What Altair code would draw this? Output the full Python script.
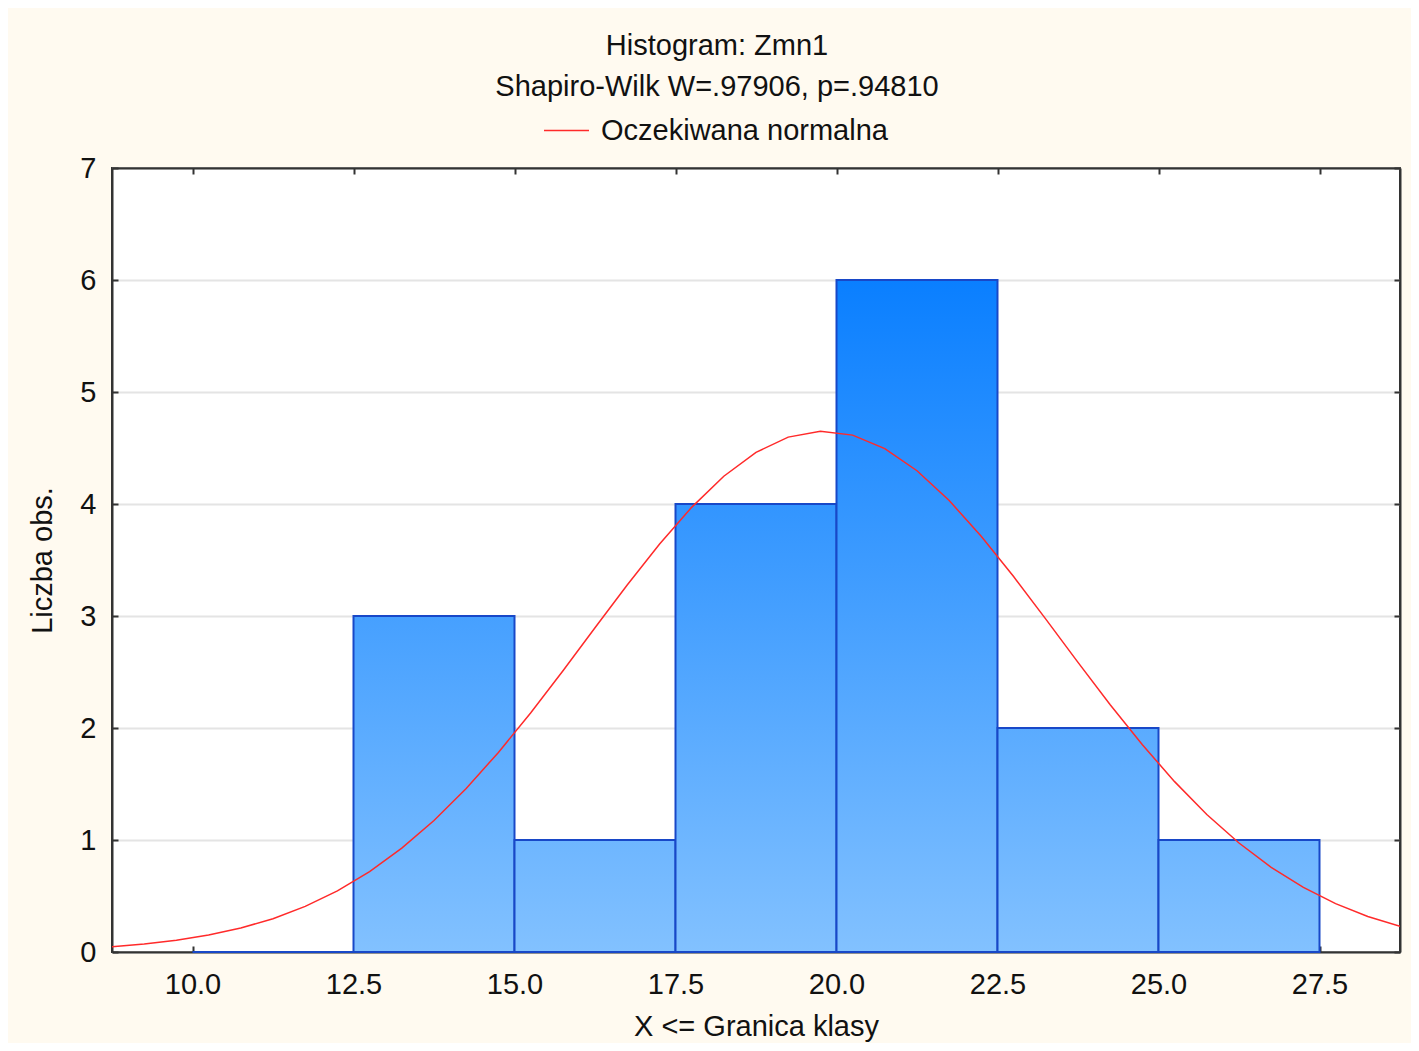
import altair as alt
import pandas as pd

# ---- data ----
bin_lower = [10.0, 12.5, 15.0, 17.5, 20.0, 22.5, 25.0]
bin_upper = [12.5, 15.0, 17.5, 20.0, 22.5, 25.0, 27.5]
counts = [0, 3, 1, 4, 6, 2, 1]

curve_x = [8.75, 9.25, 9.75, 10.25, 10.75, 11.25, 11.75, 12.25, 12.75, 13.25,
           13.75, 14.25, 14.75, 15.25, 15.75, 16.25, 16.75, 17.25, 17.75, 18.25,
           18.75, 19.25, 19.75, 20.25, 20.75, 21.25, 21.75, 22.25, 22.75, 23.25,
           23.75, 24.25, 24.75, 25.25, 25.75, 26.25, 26.75, 27.25, 27.75, 28.25, 28.75]
curve_y = [0.047, 0.071, 0.104, 0.151, 0.214, 0.297, 0.407, 0.545, 0.718, 0.927,
           1.174, 1.460, 1.782, 2.134, 2.509, 2.895, 3.277, 3.641, 3.970, 4.248,
           4.461, 4.597, 4.650, 4.615, 4.495, 4.297, 4.031, 3.710, 3.352, 2.972,
           2.586, 2.208, 1.850, 1.521, 1.228, 0.973, 0.756, 0.577, 0.432, 0.317, 0.229]

x_ticks = [10.0, 12.5, 15.0, 17.5, 20.0, 22.5, 25.0, 27.5]
y_ticks = [0, 1, 2, 3, 4, 5, 6, 7]
legend_name = "Oczekiwana normalna"

FONT = "Liberation Sans"
FS = 29
X_DOMAIN = [8.75, 28.75]
Y_DOMAIN = [0, 7]

bars = pd.DataFrame({"lower": bin_lower, "upper": bin_upper, "count": counts})
curve = pd.DataFrame({"cx": curve_x, "cy": curve_y, "name": [legend_name] * len(curve_x)})

BOTTOM = (130, 193, 255)
TOP6 = (10, 127, 255)


def col_at(v):
    t = v / 6.0
    c = [round(BOTTOM[i] + (TOP6[i] - BOTTOM[i]) * t) for i in range(3)]
    return "#%02x%02x%02x" % tuple(c)


xscale = alt.Scale(domain=X_DOMAIN, nice=False, zero=False)
yscale = alt.Scale(domain=Y_DOMAIN, nice=False, zero=True)

x_bottom = alt.Axis(orient="bottom", values=x_ticks, format=".1f", title="X <= Granica klasy",
                    labelFontSize=FS, titleFontSize=FS, labelFont=FONT, titleFont=FONT,
                    titleFontWeight="normal", labelColor="#111", titleColor="#111",
                    tickSize={"expr": "-6"}, tickColor="#333", tickWidth=2,
                    domainColor="#333", domainWidth=2, grid=False,
                    labelPadding=24, titlePadding=13, labelFlush=False)
y_left = alt.Axis(orient="left", values=y_ticks, format="d", title="Liczba obs.",
                  labelFontSize=FS, titleFontSize=FS, labelFont=FONT, titleFont=FONT,
                  titleFontWeight="normal", labelColor="#111", titleColor="#111",
                  tickSize={"expr": "-6"}, tickColor="#333", tickWidth=2,
                  domainColor="#333", domainWidth=2,
                  grid=True, gridColor="#E4E4E4", gridWidth=2,
                  labelPadding=22, titlePadding=22, labelFlush=False)
x_top = alt.Axis(orient="top", values=x_ticks, labels=False, title=None,
                 tickSize={"expr": "-6"}, tickColor="#333", tickWidth=2,
                 domainColor="#333", domainWidth=2, grid=False)
y_right = alt.Axis(orient="right", values=y_ticks, labels=False, title=None,
                   tickSize={"expr": "-6"}, tickColor="#333", tickWidth=2,
                   domainColor="#333", domainWidth=2, grid=False)

layers = []
for i, (lo, up, c) in enumerate(zip(bin_lower, bin_upper, counts)):
    if c > 0:
        fill = alt.Gradient(gradient="linear",
                            stops=[alt.GradientStop(color=col_at(c), offset=0),
                                   alt.GradientStop(color=col_at(0), offset=1)],
                            x1=0, x2=0, y1=0, y2=1)
    else:
        fill = col_at(0)
    layer = alt.Chart(bars).transform_filter(
        alt.datum.lower == lo
    ).mark_rect(fill=fill, stroke="#1848C8", strokeWidth=2).encode(
        x=alt.X("lower:Q", scale=xscale, axis=x_bottom if i == 0 else None),
        x2="upper:Q",
        y=alt.Y("count:Q", scale=yscale, axis=y_left if i == 0 else None),
        y2=alt.datum(0),
    )
    layers.append(layer)

line = alt.Chart(curve).mark_line(strokeWidth=1.5, clip=True).encode(
    x=alt.X("cx:Q", scale=xscale, axis=x_top),
    y=alt.Y("cy:Q", scale=yscale, axis=y_right),
    color=alt.Color("name:N", scale=alt.Scale(domain=[legend_name], range=["#FF2A2A"]),
                    legend=alt.Legend(orient="none", legendX=431, legendY=-61, title=None,
                                      symbolType="stroke", symbolSize=2025,
                                      symbolStrokeWidth=1.5, labelFontSize=FS,
                                      labelFont=FONT, labelColor="#111", labelOffset=11,
                                      labelLimit=0, padding=0)),
)
layers.append(line)

chart = alt.layer(*layers).resolve_axis(x="independent", y="independent").properties(
    width=1288,
    height=784,
    padding={"left": 104, "top": 160, "right": 11, "bottom": 91},
    autosize=alt.AutoSizeParams(type="none"),
    background="#FFFAF0",
    title=alt.TitleParams(text="Histogram: Zmn1", subtitle="Shapiro-Wilk W=.97906, p=.94810",
                          fontSize=FS, subtitleFontSize=FS, font=FONT, subtitleFont=FONT,
                          fontWeight="normal", color="#111", subtitleColor="#111",
                          anchor="middle", dx=-39, offset=5, subtitlePadding=12),
).configure_view(fill="white", stroke="#333", strokeWidth=2)

chart.save("out.html", embed_options={"renderer": "svg", "actions": False})
